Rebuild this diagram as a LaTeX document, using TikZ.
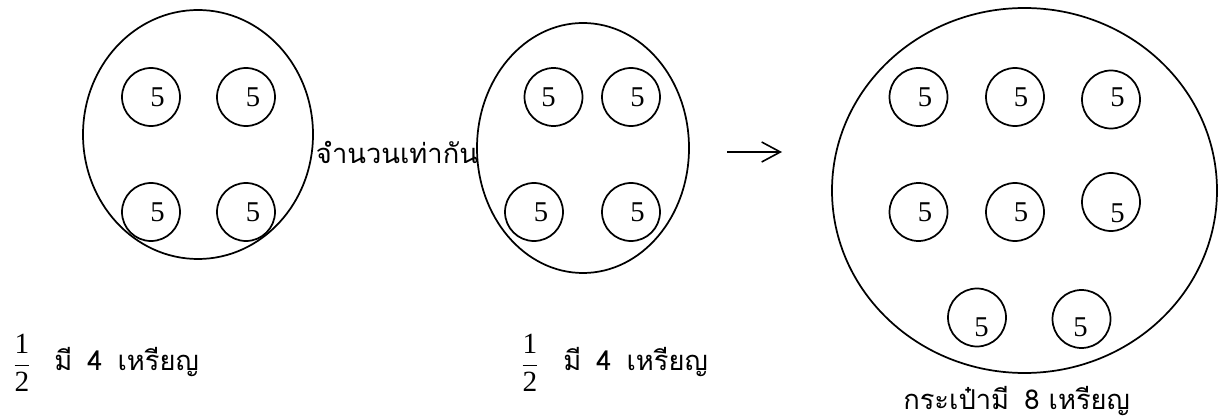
\documentclass[tikz,border=0pt]{standalone}
\usepackage{fontspec}
\setmainfont{Liberation Serif}
\newfontfamily\thaifont[Script=Thai]{Loma}
\usetikzlibrary{shapes.geometric,arrows.meta}
\tikzset{
  bag/.style={draw, line width=1.3pt, ellipse, inner sep=0pt},
  coin/.style={draw, line width=1.3pt, circle, inner sep=0pt, minimum size=43.5pt},
  digit/.style={inner sep=0pt, font=\fontsize{21.5}{24}\selectfont},
  thai/.style={inner sep=0pt, font=\fontsize{20.5}{24}\selectfont\thaifont},
  frac/.style={inner sep=0pt, font=\fontsize{22}{24}\selectfont},
}
\begin{document}
\begin{tikzpicture}[x=0.75pt,y=-0.75pt]
\useasboundingbox (0,0) rectangle (1225,420);
% bags
\node[bag, minimum width=172.5pt, minimum height=186.75pt] (bagL) at (198,134.5) {};
\node[bag, minimum width=159pt, minimum height=187.5pt] (bagM) at (583,148) {};
\node[bag, minimum width=288.75pt, minimum height=273.75pt] (bagR) at (1024.5,190.5) {};
% left coins
\node[coin] (l1) at (151,97) {};
\node[coin] (l2) at (246,97) {};
\node[coin] (l3) at (151,212) {};
\node[coin] (l4) at (246,212) {};
\node[digit] (tl1) at (157.5,97.5) {5};
\node[digit] (tl2) at (253,97.5) {5};
\node[digit] (tl3) at (157.5,212) {5};
\node[digit] (tl4) at (253,212) {5};
% middle coins
\node[coin] (m1) at (553.5,97) {};
\node[coin] (m2) at (631,97) {};
\node[coin] (m3) at (534,212) {};
\node[coin] (m4) at (631,212) {};
\node[digit] (tm1) at (548.5,97.5) {5};
\node[digit] (tm2) at (637.5,97.5) {5};
\node[digit] (tm3) at (541,212) {5};
\node[digit] (tm4) at (637.5,212) {5};
% right coins
\node[coin] (r1) at (918.5,97) {};
\node[coin] (r2) at (1015,97) {};
\node[coin] (r3) at (1111,99.5) {};
\node[coin] (r4) at (918.5,212) {};
\node[coin] (r5) at (1015,212) {};
\node[coin] (r6) at (1111,202) {};
\node[coin] (r7) at (977,317.5) {};
\node[coin] (r8) at (1081.5,319) {};
\node[digit] (tr1) at (925,97.5) {5};
\node[digit] (tr2) at (1021,97.5) {5};
\node[digit] (tr3) at (1117.5,97.5) {5};
\node[digit] (tr4) at (925,212) {5};
\node[digit] (tr5) at (1021,212) {5};
\node[digit] (tr6) at (1117.5,213) {5};
\node[digit] (tr7) at (981.5,327.5) {5};
\node[digit] (tr8) at (1080.5,327.5) {5};
% texts
\node[thai] (same) at (397,152) {จำนวนเท่ากัน};
\node[frac] (fracL) at (22,363) {$\displaystyle\frac{\mbox{1}}{\mbox{2}}$};
\node[thai, anchor=base west] (txtL) at (54,370) {มี\hspace{0.55em}4\hspace{0.55em}เหรียญ};
\node[frac] (fracM) at (530,363) {$\displaystyle\frac{\mbox{1}}{\mbox{2}}$};
\node[thai, anchor=base west] (txtM) at (563,370) {มี\hspace{0.55em}4\hspace{0.55em}เหรียญ};
\node[thai, anchor=base west] (txtR) at (903,409) {กระเป๋ามี\hspace{0.55em}8 เหรียญ};
% arrow
\coordinate (arA) at (727,152);
\coordinate (arB) at (782,152);
\draw[line width=1.2pt, -{Straight Barb[length=14pt,width=15pt,line width=1.2pt]}] (arA) -- (arB);
\end{tikzpicture}
\end{document}
